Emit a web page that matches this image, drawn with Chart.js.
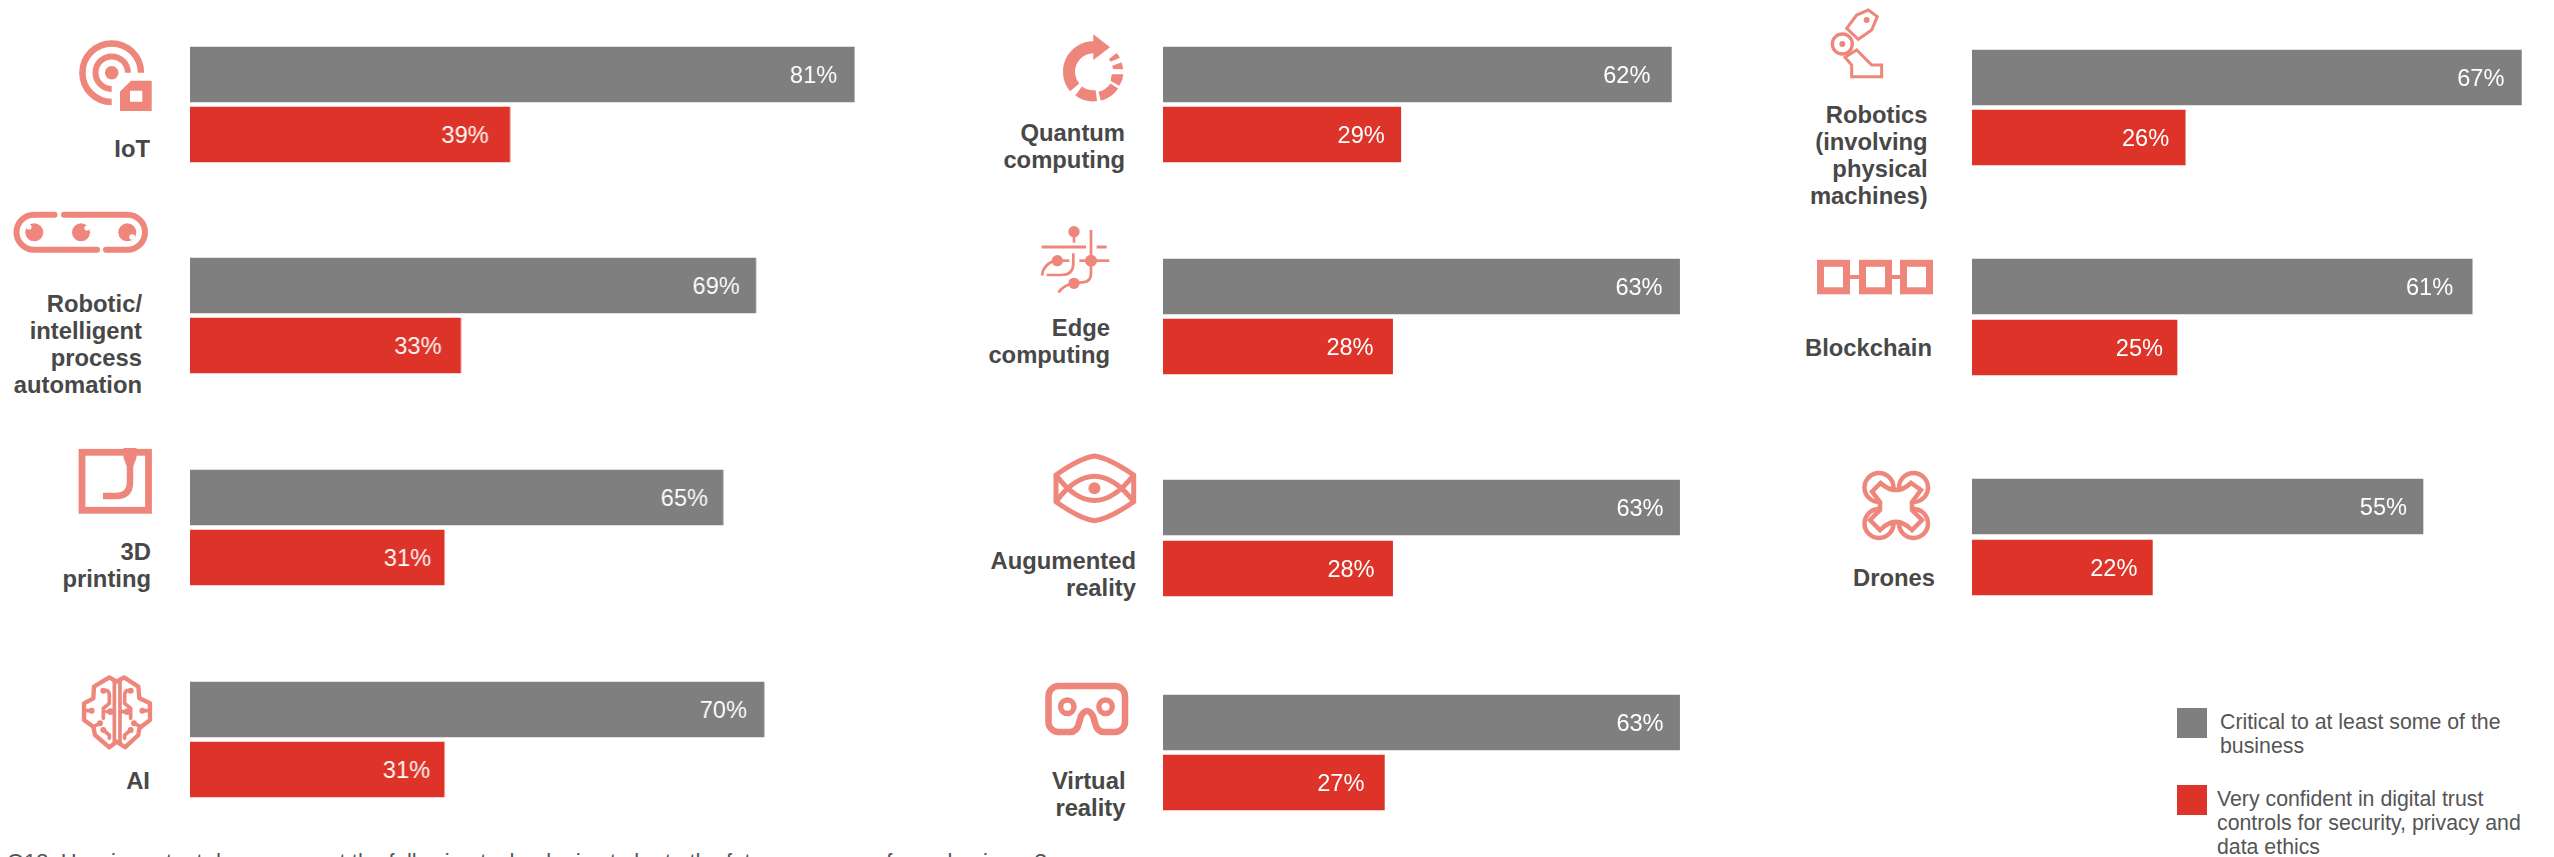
<!DOCTYPE html>
<html lang="en">
<head>
<meta charset="UTF-8" />
<title>Emerging technologies: criticality and digital trust confidence</title>
<script src="https://cdn.jsdelivr.net/npm/chart.js"></script>
<style>
  html, body { margin: 0; padding: 0; background: #fff; }
  body { position: relative; width: 2554px; height: 857px; overflow: hidden; font-family: "Liberation Sans", Arial, sans-serif; }
  canvas { position: absolute; }
  #icons { position: absolute; left: 0; top: 0; }
  .cat { position: absolute; text-align: right; white-space: pre; font-weight: bold; font-size: 23.8px; line-height: 27px; color: #484848; transform: translateX(-100%); }
  .swatch { position: absolute; width: 30px; height: 30px; }
  .legend-text { position: absolute; font-size: 21.3px; line-height: 24px; color: #555; white-space: pre; }
  #note { position: absolute; left: 7px; top: 850px; font-size: 22px; line-height: 24px; color: #555; white-space: pre; }
  #icons .s { fill: none; stroke: #ee867b; }
  #icons .f { fill: #ee867b; }
</style>
</head>
<body>
<svg id="icons" width="2554" height="857" viewBox="0 0 2554 857">
  <!-- IoT -->
  <g class="s" stroke-width="6.5">
    <path d="M141 72.7A29.3 29.3 0 1 0 111.7 102" />
    <path d="M127.9 72.7A16.2 16.2 0 1 0 111.7 88.9" stroke-width="6" />
  </g>
  <circle class="f" cx="111.7" cy="72.7" r="6.8" />
  <path class="f" fill-rule="evenodd" d="M120 91.5L131 80.7H151.7V111H120ZM130 90.7V101.7H142.3V90.7Z" />

  <!-- conveyor -->
  <g class="s" stroke-width="6" stroke-linecap="round">
    <path d="M54.5 214.7H34A17.5 17.5 0 0 0 34 249.7H97" />
    <path d="M106 249.7H127.5A17.5 17.5 0 0 0 127.5 214.7H64" />
  </g>
  <circle class="f" cx="34.3" cy="232.3" r="9" /><circle cx="29" cy="227" r="2.6" fill="#fff" />
  <circle class="f" cx="81" cy="232.3" r="9" /><circle cx="87" cy="228" r="2.6" fill="#fff" />
  <circle class="f" cx="127.3" cy="232.3" r="9" /><circle cx="132" cy="237" r="2.8" fill="#fff" />

  <!-- 3D printer -->
  <rect class="s" x="82" y="452.3" width="66.5" height="58" stroke-width="6.8" />
  <path class="s" stroke-width="6.5" d="M130 452V482Q130 496 116 496H103" />
  <path class="f" d="M123.5 448H136.5V458L132.5 468H127.5L123.5 458Z" />

  <!-- brain -->
  <g transform="translate(70 670) scale(0.3333)">
    <path class="s" stroke-width="13" stroke-linejoin="round" d="M118 22L140 35L162 22L205 50L208 85L240 100V150L208 175L205 195L165 232L140 215L118 232L75 195L70 170L42 150V100L70 85L72 50Z" />
    <g class="s" stroke-width="11" stroke-linecap="round">
      <path d="M133 35V215M150 35V215" />
      <path d="M100 62H112Q118 66 118 75V100L100 115V145" />
      <path d="M182 62H170Q164 66 164 75V100L182 115V145" />
      <path d="M42 122H65M240 122H217" />
      <path d="M70 170L90 160M212 170L192 160" />
      <path d="M100 180L118 195V205M182 180L164 195V205" />
      <path d="M110 125H133M172 125H150" />
    </g>
    <circle class="f" cx="100" cy="62" r="9" /><circle class="f" cx="182" cy="62" r="9" />
    <circle class="f" cx="65" cy="122" r="9" /><circle class="f" cx="217" cy="122" r="9" />
    <circle class="f" cx="122" cy="125" r="10" /><circle class="f" cx="172" cy="125" r="10" />
    <circle class="f" cx="90" cy="160" r="9" /><circle class="f" cx="192" cy="160" r="9" />
    <circle class="f" cx="100" cy="180" r="9" /><circle class="f" cx="182" cy="180" r="9" />
  </g>

  <!-- quantum arrow -->
  <g transform="translate(1020 25) scale(0.3333)">
    <path class="s" stroke-width="36" d="M222 67A73 73 0 0 0 164 187" />
    <path class="f" d="M220 28L270 67L220 105Z" />
    <path class="s" stroke-width="33" d="M176 198A73 73 0 0 0 229 212" />
    <path class="s" stroke-width="28" d="M239 214A76 76 0 0 0 283 183" />
    <path class="f" d="M275 148H310Q309 166 298 182L272 168Z" />
    <path class="f" d="M277 122L305 112L310 133L279 132Z" />
    <path class="f" d="M267 102L290 84L300 98L272 110Z" />
  </g>

  <!-- edge computing -->
  <g transform="translate(1020 25) scale(0.3333)">
    <circle class="f" cx="162" cy="620" r="17" />
    <g class="s" stroke-width="8">
      <path d="M162 625V653" />
      <path d="M65 666H198M230 666H260" stroke-width="9" />
      <path d="M213 615V745Q213 772 185 772L160 775Q135 778 115 802" />
      <path d="M178 707H268" />
      <path d="M112 707H148" />
      <path d="M110 705Q70 715 66 752" />
      <path d="M160 685V715Q160 750 125 750H80" />
    </g>
    <circle class="f" cx="213" cy="707" r="18" />
    <circle class="f" cx="112" cy="707" r="17" />
    <circle class="f" cx="162" cy="775" r="17" />
  </g>

  <!-- augmented reality eye -->
  <g class="s" stroke-width="5">
    <path d="M1094.4 456Q1080 458 1056 475V501.7Q1080 519 1094.4 520.7Q1109 519 1133.7 501.7V475Q1109 458 1094.4 456Z" />
    <path d="M1056 475Q1094 526 1133.7 475" />
    <path d="M1056 501.7Q1094 451 1133.7 501.7" />
  </g>
  <circle class="f" cx="1094.4" cy="488.3" r="6" />

  <!-- VR headset -->
  <path class="s" stroke-width="6.5" d="M1062 732H1058.5A10 10 0 0 1 1048.5 722V696A10 10 0 0 1 1058.5 686H1115A10 10 0 0 1 1125 696V722A10 10 0 0 1 1115 732H1104Q1097 732 1095 723L1093 716Q1087 706 1081 716L1079 723Q1077 732 1070 732Z" />
  <circle class="s" stroke-width="5.5" cx="1067.3" cy="706.7" r="6.7" />
  <circle class="s" stroke-width="5.5" cx="1105.6" cy="706.7" r="6.7" />

  <!-- robot arm -->
  <g transform="translate(1800 0) scale(0.3333)">
    <circle class="s" stroke-width="10" cx="127" cy="132" r="30" />
    <circle class="f" cx="127" cy="132" r="9" />
    <path class="s" stroke-width="9" d="M140 85L170 45L205 30L232 50L215 90L175 118Z" />
    <circle class="f" cx="200" cy="60" r="9" />
    <path class="s" stroke-width="9" d="M135 172L170 150L215 195H245V230H155V195Z" />
  </g>

  <!-- blockchain -->
  <g class="s" stroke-width="7">
    <rect x="1820.5" y="263.3" width="26" height="27.5" />
    <rect x="1862.5" y="263.3" width="26" height="27.5" />
    <rect x="1903.5" y="263.3" width="26" height="27.5" />
    <path d="M1850 277H1859M1892 277H1900" stroke-width="4" />
  </g>

  <!-- drone -->
  <g class="s" stroke-width="4.5">
    <circle cx="1879" cy="487.5" r="14.5" />
    <circle cx="1913.5" cy="487.5" r="14.5" />
    <circle cx="1879" cy="523.5" r="14.5" />
    <circle cx="1913.5" cy="523.5" r="14.5" />
    <path fill="#fff" d="M1872 491.7L1880.5 483Q1896 497 1911 483L1921 490L1912 502V510L1922 520L1912 530Q1896 514 1880 530L1870 520L1880 510V502Z" />
  </g>
</svg>

<script>
  // Chart data
  const categories = [
    'IoT', 'Robotic/\nintelligent\nprocess\nautomation', '3D\nprinting', 'AI',
    'Quantum\ncomputing', 'Edge\ncomputing', 'Augumented\nreality', 'Virtual\nreality',
    'Robotics\n(involving\nphysical\nmachines)', 'Blockchain', 'Drones'
  ];
  const criticalValues = [81, 69, 65, 70, 62, 63, 63, 63, 67, 61, 55];
  const confidentValues = [39, 33, 31, 31, 29, 28, 28, 27, 26, 25, 22];
  const seriesNames = [
    'Critical to at least some of the\nbusiness',
    'Very confident in digital trust\ncontrols for security, privacy and\ndata ethics'
  ];

  // Where each panel sits on the page
  const PX_PER_POINT = 8.2;
  const BAR_HEIGHT = 55;
  const panelLeft = [190, 190, 190, 190, 1163, 1163, 1163, 1163, 1972, 1972, 1972];
  const panelTop = [47, 258, 470, 682, 47, 259, 480, 695, 50, 259, 479];
  const panelGap = [5, 5, 5, 5, 5, 5, 6, 5, 5, 6, 6];
  const panelMax = [85, 85, 85, 85, 65, 65, 65, 65, 70, 70, 70];
  const labelRight = [150, 142, 151, 150, 1125, 1110, 1136, 1125.5, 1927.6, 1932, 1935];
  const labelTop = [134.5, 289.5, 537.5, 766.5, 118.5, 313.5, 546.5, 766.5, 100.5, 333.5, 563.5];
  // Distance of the percentage from the end of its bar, top bar then bottom bar
  const labelInset = [
    [17, 21], [16, 19], [15, 13], [17, 14],
    [21, 16], [17, 19], [16, 18], [16, 20],
    [17, 16], [19, 14], [16, 15]
  ];

  // Prints the percentage inside the end of each bar
  const barValueLabels = {
    id: 'barValueLabels',
    afterDatasetsDraw(chart, args, opts) {
      const ctx = chart.ctx;
      const meta = chart.getDatasetMeta(0);
      ctx.save();
      ctx.font = '23.6px "Liberation Sans", Arial, sans-serif';
      ctx.fillStyle = '#fff';
      ctx.textAlign = 'right';
      ctx.textBaseline = 'middle';
      meta.data.forEach((bar, i) => {
        ctx.fillText(chart.data.datasets[0].data[i] + '%', bar.x - opts.insets[i], bar.y + 1.5);
      });
      ctx.restore();
    }
  };

  categories.forEach((name, i) => {
    const gap = panelGap[i];
    const canvas = document.createElement('canvas');
    const width = panelMax[i] * PX_PER_POINT;
    const pad = gap % 2 ? 0.5 : 0;
    const height = 2 * (BAR_HEIGHT + gap) + 2 * pad;
    canvas.width = width;
    canvas.height = height;
    canvas.style.left = panelLeft[i] + 'px';
    canvas.style.top = (panelTop[i] - Math.ceil(gap / 2)) + 'px';
    canvas.style.width = width + 'px';
    canvas.style.height = height + 'px';
    document.body.appendChild(canvas);

    new Chart(canvas.getContext('2d'), {
      type: 'bar',
      data: {
        labels: ['Critical', 'Very confident'],
        datasets: [{
          data: [criticalValues[i], confidentValues[i]],
          backgroundColor: ['#7f7f7f', '#dd3328'],
          barThickness: BAR_HEIGHT
        }]
      },
      options: {
        indexAxis: 'y',
        responsive: false,
        animation: false,
        layout: { padding: { top: pad, bottom: pad } },
        scales: {
          x: { display: false, min: 0, max: panelMax[i] },
          y: { display: false }
        },
        plugins: {
          legend: { display: false },
          tooltip: { enabled: false },
          barValueLabels: { insets: labelInset[i] }
        }
      },
      plugins: [barValueLabels]
    });

    const label = document.createElement('div');
    label.className = 'cat';
    label.textContent = name;
    label.style.left = labelRight[i] + 'px';
    label.style.top = labelTop[i] + 'px';
    document.body.appendChild(label);
  });

  // Legend
  const legendColors = ['#7f7f7f', '#dd3328'];
  const legendSwatchTop = [708, 785];
  const legendTextLeft = [2220, 2217];
  const legendTextTop = [710, 787];
  seriesNames.forEach((name, i) => {
    const swatch = document.createElement('div');
    swatch.className = 'swatch';
    swatch.style.left = '2177px';
    swatch.style.top = legendSwatchTop[i] + 'px';
    swatch.style.background = legendColors[i];
    document.body.appendChild(swatch);

    const text = document.createElement('div');
    text.className = 'legend-text';
    text.textContent = name;
    text.style.left = legendTextLeft[i] + 'px';
    text.style.top = legendTextTop[i] + 'px';
    document.body.appendChild(text);
  });
</script>
<div id="note">Q13. How important do you expect the following technologies to be to the future success of your business?</div>
</body>
</html>
